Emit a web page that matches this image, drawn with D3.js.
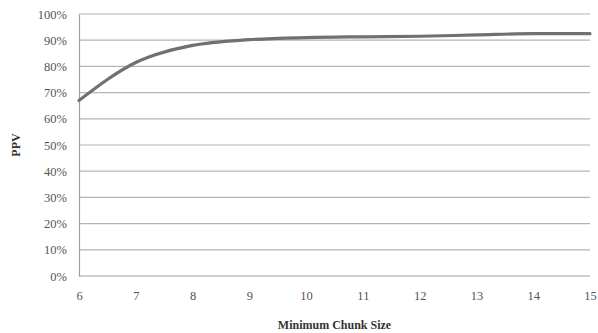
<!DOCTYPE html>
<html>
<head>
<meta charset="utf-8">
<script src="https://cdn.jsdelivr.net/npm/d3@7"></script>
<style>
  html, body { margin: 0; padding: 0; background: #fff; }
  svg { display: block; }
  svg text { font-family: "Liberation Serif", "Times New Roman", "DejaVu Serif", serif; }
</style>
</head>
<body>
<svg id="chart" width="598" height="333"></svg>
<script>
// Minimum chunk size vs. positive predictive value
const chunkSizes = [6, 7, 8, 9, 10, 11, 12, 13, 14, 15];
const ppvValues  = [0.67, 0.815, 0.88, 0.902, 0.91, 0.913, 0.915, 0.92, 0.925, 0.925];
const yTicks     = [0, 0.1, 0.2, 0.3, 0.4, 0.5, 0.6, 0.7, 0.8, 0.9, 1.0];
const xTicks     = [6, 7, 8, 9, 10, 11, 12, 13, 14, 15];

const svg = d3.select("#chart");
const margin = { left: 79, right: 8, top: 14, bottom: 57 };
const W = 598, H = 333;

const x = d3.scaleLinear().domain([6, 15]).range([margin.left, W - margin.right]);
const y = d3.scaleLinear().domain([0, 1]).range([H - margin.bottom, margin.top]);

// horizontal gridlines
svg.append("g")
  .selectAll("line")
  .data(yTicks.slice(1))
  .join("line")
  .attr("x1", x(6)).attr("x2", x(15))
  .attr("y1", d => y(d)).attr("y2", d => y(d))
  .attr("stroke", "#b4b4b4").attr("stroke-width", 1.2);

// y axis
const yAxis = svg.append("g")
  .attr("transform", `translate(${x(6)},0)`)
  .call(d3.axisLeft(y).tickValues(yTicks).tickFormat(d3.format(".0%")).tickSize(0).tickPadding(12));
yAxis.attr("font-family", null);
yAxis.select(".domain").attr("stroke", "#a0a0a0").attr("stroke-width", 1.2);
yAxis.selectAll("text").attr("font-size", 12.5).attr("fill", "#555");

// x axis baseline
svg.append("line")
  .attr("x1", x(6)).attr("x2", x(15))
  .attr("y1", y(0)).attr("y2", y(0))
  .attr("stroke", "#a0a0a0").attr("stroke-width", 1.2);

const xAxis = svg.append("g")
  .attr("transform", `translate(0,${y(0)})`)
  .call(d3.axisBottom(x).tickValues(xTicks).tickFormat(d3.format("d")).tickSize(0).tickPadding(15));
xAxis.attr("font-family", null);
xAxis.select(".domain").remove();
xAxis.selectAll("text").attr("font-size", 12.5).attr("fill", "#555");

// the PPV curve
const line = d3.line()
  .x((d, i) => x(chunkSizes[i]))
  .y(d => y(d))
  .curve(d3.curveMonotoneX);

svg.append("path")
  .datum(ppvValues)
  .attr("d", line)
  .attr("fill", "none")
  .attr("stroke", "#707070")
  .attr("stroke-width", 3.2)
  .attr("stroke-linecap", "round");

// axis titles
svg.append("text")
  .attr("x", (x(6) + x(15)) / 2).attr("y", 329)
  .attr("text-anchor", "middle")
  .attr("font-size", 12).attr("font-weight", "bold").attr("fill", "#333")
  .text("Minimum Chunk Size");

svg.append("text")
  .attr("transform", `translate(20,${(y(0) + y(1)) / 2}) rotate(-90)`)
  .attr("text-anchor", "middle")
  .attr("font-size", 12).attr("font-weight", "bold").attr("fill", "#333")
  .text("PPV");
</script>
</body>
</html>
